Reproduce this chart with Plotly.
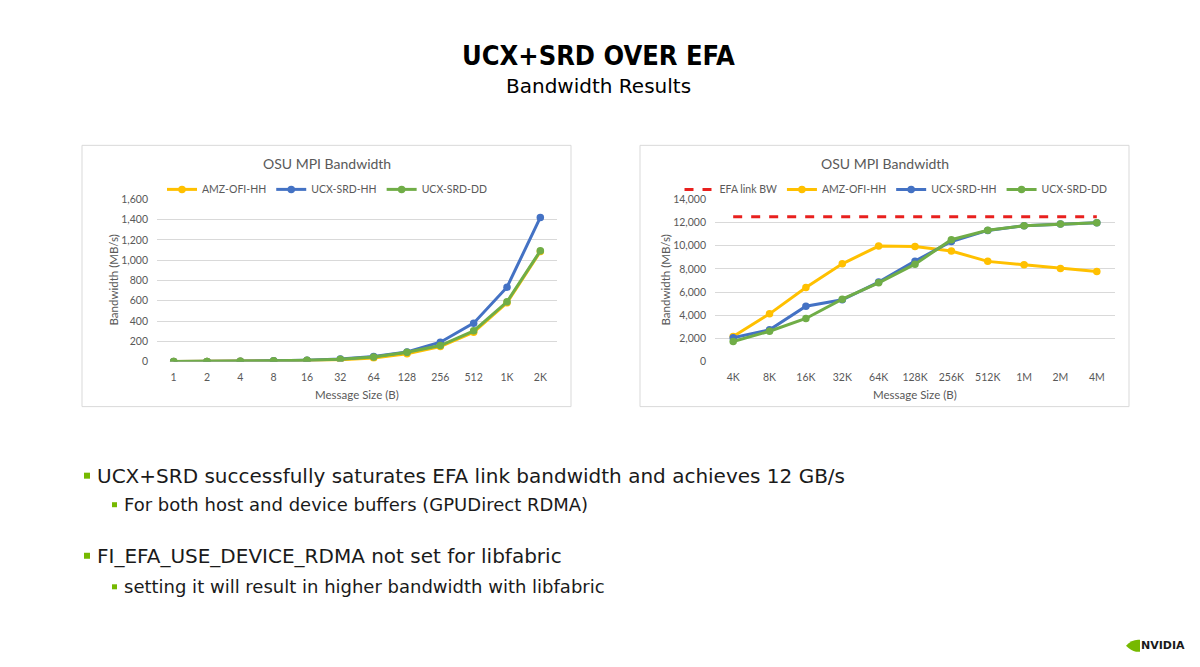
import plotly.graph_objects as go

# left chart: small messages
SIZES_SMALL = ['1', '2', '4', '8', '16', '32', '64', '128', '256', '512', '1K', '2K']
AMZ_SMALL = [0.8, 1.6, 3.2, 6, 11, 17, 36, 76, 148, 290, 580, 1085]
HH_SMALL = [0.9, 1.8, 3.6, 7, 13, 26, 49, 95, 191, 379, 734, 1422]
DD_SMALL = [0.9, 1.7, 3.5, 7, 12, 24, 46, 92, 158, 303, 589, 1093]

# right chart: large messages
SIZES_LARGE = ['4K', '8K', '16K', '32K', '64K', '128K', '256K', '512K', '1M', '2M', '4M']
EFA_LARGE = [12500, 12500, 12500, 12500, 12500, 12500, 12500, 12500, 12500, 12500, 12500]
AMZ_LARGE = [2160, 4120, 6400, 8440, 9970, 9940, 9540, 8650, 8360, 8040, 7780]
HH_LARGE = [2050, 2740, 4780, 5330, 6860, 8670, 10370, 11320, 11730, 11870, 11990]
DD_LARGE = [1730, 2620, 3720, 5390, 6800, 8410, 10520, 11330, 11730, 11870, 11990]

YELLOW = '#FFC000'
BLUE = '#4472C4'
GREEN = '#70AD47'
RED = '#E8201E'
GREY_TXT = '#595959'
GRID = '#D9D9D9'
CHART_FONT = 'Lato'
SLIDE_FONT = 'DejaVu Sans'

W, H = 1200, 667
# the page comes out slightly squeezed vertically in the screenshot; undo it
Y_SQUEEZE, Y_OFFSET = 0.981, 5.8


def px_x(v):
    return v / W


def px_y(v):
    return 1 - (v - Y_OFFSET) / Y_SQUEEZE / H


fig = go.Figure()


def add_series(x, y, name, color, xaxis, yaxis, legend, dash=None, markers=True):
    fig.add_trace(go.Scatter(
        x=x, y=y, name=name,
        mode='lines+markers' if markers else 'lines',
        line=dict(color=color, width=3, dash=dash),
        marker=dict(color=color, size=7.5),
        xaxis=xaxis, yaxis=yaxis, legend=legend,
        hoverinfo='x+y+name',
    ))


add_series(SIZES_SMALL, AMZ_SMALL, 'AMZ-OFI-HH', YELLOW, 'x', 'y', 'legend')
add_series(SIZES_SMALL, HH_SMALL, 'UCX-SRD-HH', BLUE, 'x', 'y', 'legend')
add_series(SIZES_SMALL, DD_SMALL, 'UCX-SRD-DD', GREEN, 'x', 'y', 'legend')

add_series(SIZES_LARGE, EFA_LARGE, 'EFA link BW', RED, 'x2', 'y2', 'legend2', dash='dash', markers=False)
add_series(SIZES_LARGE, AMZ_LARGE, 'AMZ-OFI-HH', YELLOW, 'x2', 'y2', 'legend2')
add_series(SIZES_LARGE, HH_LARGE, 'UCX-SRD-HH', BLUE, 'x2', 'y2', 'legend2')
add_series(SIZES_LARGE, DD_LARGE, 'UCX-SRD-DD', GREEN, 'x2', 'y2', 'legend2')

xaxis_style = dict(
    type='category', showgrid=False, zeroline=False, showline=False,
    ticks='', tickfont=dict(family=CHART_FONT, size=10.5, color=GREY_TXT),
    ticklabelstandoff=8, fixedrange=True,
)
yaxis_style = dict(
    showgrid=True, gridcolor=GRID, gridwidth=1, zeroline=False, showline=False,
    ticks='', tickfont=dict(family=CHART_FONT, size=10.5, color=GREY_TXT),
    tickformat=',d', ticklabelstandoff=8, fixedrange=True,
)
legend_style = dict(
    orientation='h', xanchor='center', yanchor='middle',
    font=dict(family=CHART_FONT, size=10.5, color=GREY_TXT),
    bgcolor='rgba(0,0,0,0)', itemwidth=30, tracegroupgap=0,
)

fig.update_layout(
    width=W, height=H,
    margin=dict(l=0, r=0, t=0, b=0),
    paper_bgcolor='white', plot_bgcolor='white',
    showlegend=True,
    xaxis=dict(domain=[px_x(157), px_x(557)], range=[-0.5, 11.5], anchor='y', **xaxis_style),
    yaxis=dict(domain=[px_y(361), px_y(199)], range=[0, 1600], dtick=200, anchor='x', **yaxis_style),
    xaxis2=dict(domain=[px_x(715), px_x(1115)], range=[-0.5, 10.5], anchor='y2', **xaxis_style),
    yaxis2=dict(domain=[px_y(361), px_y(199)], range=[0, 14000], dtick=2000, anchor='x2', **yaxis_style),
    legend=dict(x=px_x(327), y=px_y(189), **legend_style),
    legend2=dict(x=px_x(896), y=px_y(189), **legend_style),
)

# chart frames
for x0, x1 in [(82, 571), (640, 1129)]:
    fig.add_shape(type='rect', xref='paper', yref='paper',
                  x0=px_x(x0), x1=px_x(x1), y0=px_y(406), y1=px_y(145),
                  line=dict(color='#D9D9D9', width=1), fillcolor='rgba(0,0,0,0)', layer='below')


def note(text, x, y, size, color='#000000', family=SLIDE_FONT, xanchor='center', angle=0):
    fig.add_annotation(text=text, x=px_x(x), y=px_y(y), xref='paper', yref='paper',
                       showarrow=False, xanchor=xanchor, yanchor='middle', textangle=angle,
                       font=dict(family=family, size=size, color=color))


# chart titles and axis titles
for cx, ylab_x in [(327, 113), (885, 665)]:
    note('OSU MPI Bandwidth', cx, 163, 14, GREY_TXT, CHART_FONT)
    note('Bandwidth (MB/s)', ylab_x, 280, 11.5, GREY_TXT, CHART_FONT, angle=-90)
note('Message Size (B)', 357, 394, 11.5, GREY_TXT, CHART_FONT)
note('Message Size (B)', 915, 394, 11.5, GREY_TXT, CHART_FONT)

# slide title
note('<b>UCX+SRD OVER EFA</b>', 598, 55, 27, family='DejaVu Sans Condensed')
note('Bandwidth Results', 598, 86, 20)

# bullets
BULLETS = [
    ('UCX+SRD successfully saturates EFA link bandwidth and achieves 12 GB/s', 84, 475, 20, 6),
    ('For both host and device buffers (GPUDirect RDMA)', 112, 504, 18, 5),
    ('FI_EFA_USE_DEVICE_RDMA not set for libfabric', 84, 555, 20, 6),
    ('setting it will result in higher bandwidth with libfabric', 112, 586, 18, 5),
]
for text, bx, by, size, sq in BULLETS:
    fig.add_shape(type='rect', xref='paper', yref='paper',
                  x0=px_x(bx), x1=px_x(bx + sq), y0=px_y(by + sq / 2), y1=px_y(by - sq / 2),
                  line=dict(width=0), fillcolor='#76B900')
    note(text, bx + sq + 5, by, size, '#1A1A1A', xanchor='left')

# NVIDIA logo
fig.add_shape(type='path', xref='paper', yref='paper',
              path='M %f,%f Q %f,%f %f,%f L %f,%f L %f,%f Q %f,%f %f,%f Z' % (
                  px_x(1126), px_y(645), px_x(1132), px_y(638), px_x(1140), px_y(639),
                  px_x(1140), px_y(651), px_x(1136), px_y(651),
                  px_x(1131), px_y(650), px_x(1126), px_y(645)),
              line=dict(width=0), fillcolor='#76B900')
note('<b>NVIDIA</b>', 1163, 645, 11, '#1A1A1A', 'DejaVu Sans')

# pin the 1200x667 figure to the window's top-left corner, no page margins or scrolling
pin_js = (
    "document.documentElement.style.margin='0';document.body.style.margin='0';"
    "document.body.style.overflow='hidden';"
    "var d=document.getElementById('{plot_id}');"
    "d.style.position='fixed';d.style.top='0';d.style.left='0';"
)
fig.write_html('out.html', config={'displayModeBar': False}, post_script=pin_js)
